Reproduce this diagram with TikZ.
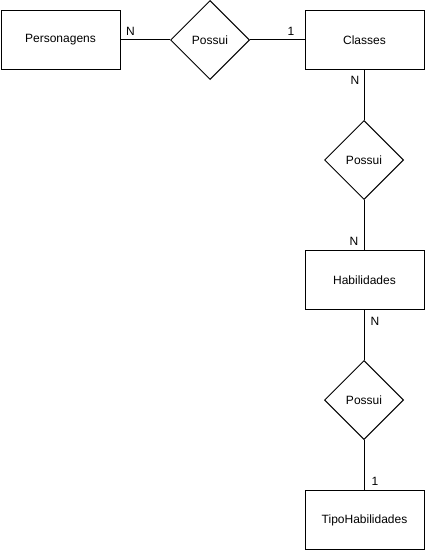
\documentclass[tikz,border=0pt]{standalone}
\usepackage{fontspec}
\setmainfont{Liberation Sans}
\usetikzlibrary{shapes.geometric}
\begin{document}
\begin{tikzpicture}[x=1pt,y=-1pt,
  ent/.style={draw,line width=1pt,minimum width=119pt,minimum height=59pt,inner sep=0pt,font=\fontsize{12}{14}\selectfont},
  rel/.style={draw,diamond,aspect=1,line width=1pt,minimum width=79pt,minimum height=79pt,inner sep=0pt,font=\fontsize{12}{14}\selectfont},
  card/.style={font=\fontsize{12}{14}\selectfont,inner sep=0pt},
  conn/.style={line width=1pt}]
\useasboundingbox (0,0) rectangle (425,551);
\node[ent] (pers) at (60.5,40) {Personagens};
\node[rel] (r1) at (210,40) {Possui};
\node[ent] (cls) at (364.5,40) {Classes};
\node[rel] (r2) at (364,160) {Possui};
\node[ent] (hab) at (364.5,280) {Habilidades};
\node[rel] (r3) at (364,400) {Possui};
\node[ent] (tipo) at (364.5,520) {TipoHabilidades};
\draw[conn] (pers) -- (r1);
\draw[conn] (r1) -- (cls);
\draw[conn] (cls.south -| r2.north) -- (r2);
\draw[conn] (r2) -- (hab.north -| r2.south);
\draw[conn] (hab.south -| r3.north) -- (r3);
\draw[conn] (r3) -- (tipo.north -| r3.south);
\node[card] (c1) at (130.5,31) {N};
\node[card] (c2) at (291,31) {1};
\node[card] (c3) at (355,80) {N};
\node[card] (c4) at (354,241.5) {N};
\node[card] (c5) at (375,321.5) {N};
\node[card] (c6) at (375,481.5) {1};
\end{tikzpicture}
\end{document}
